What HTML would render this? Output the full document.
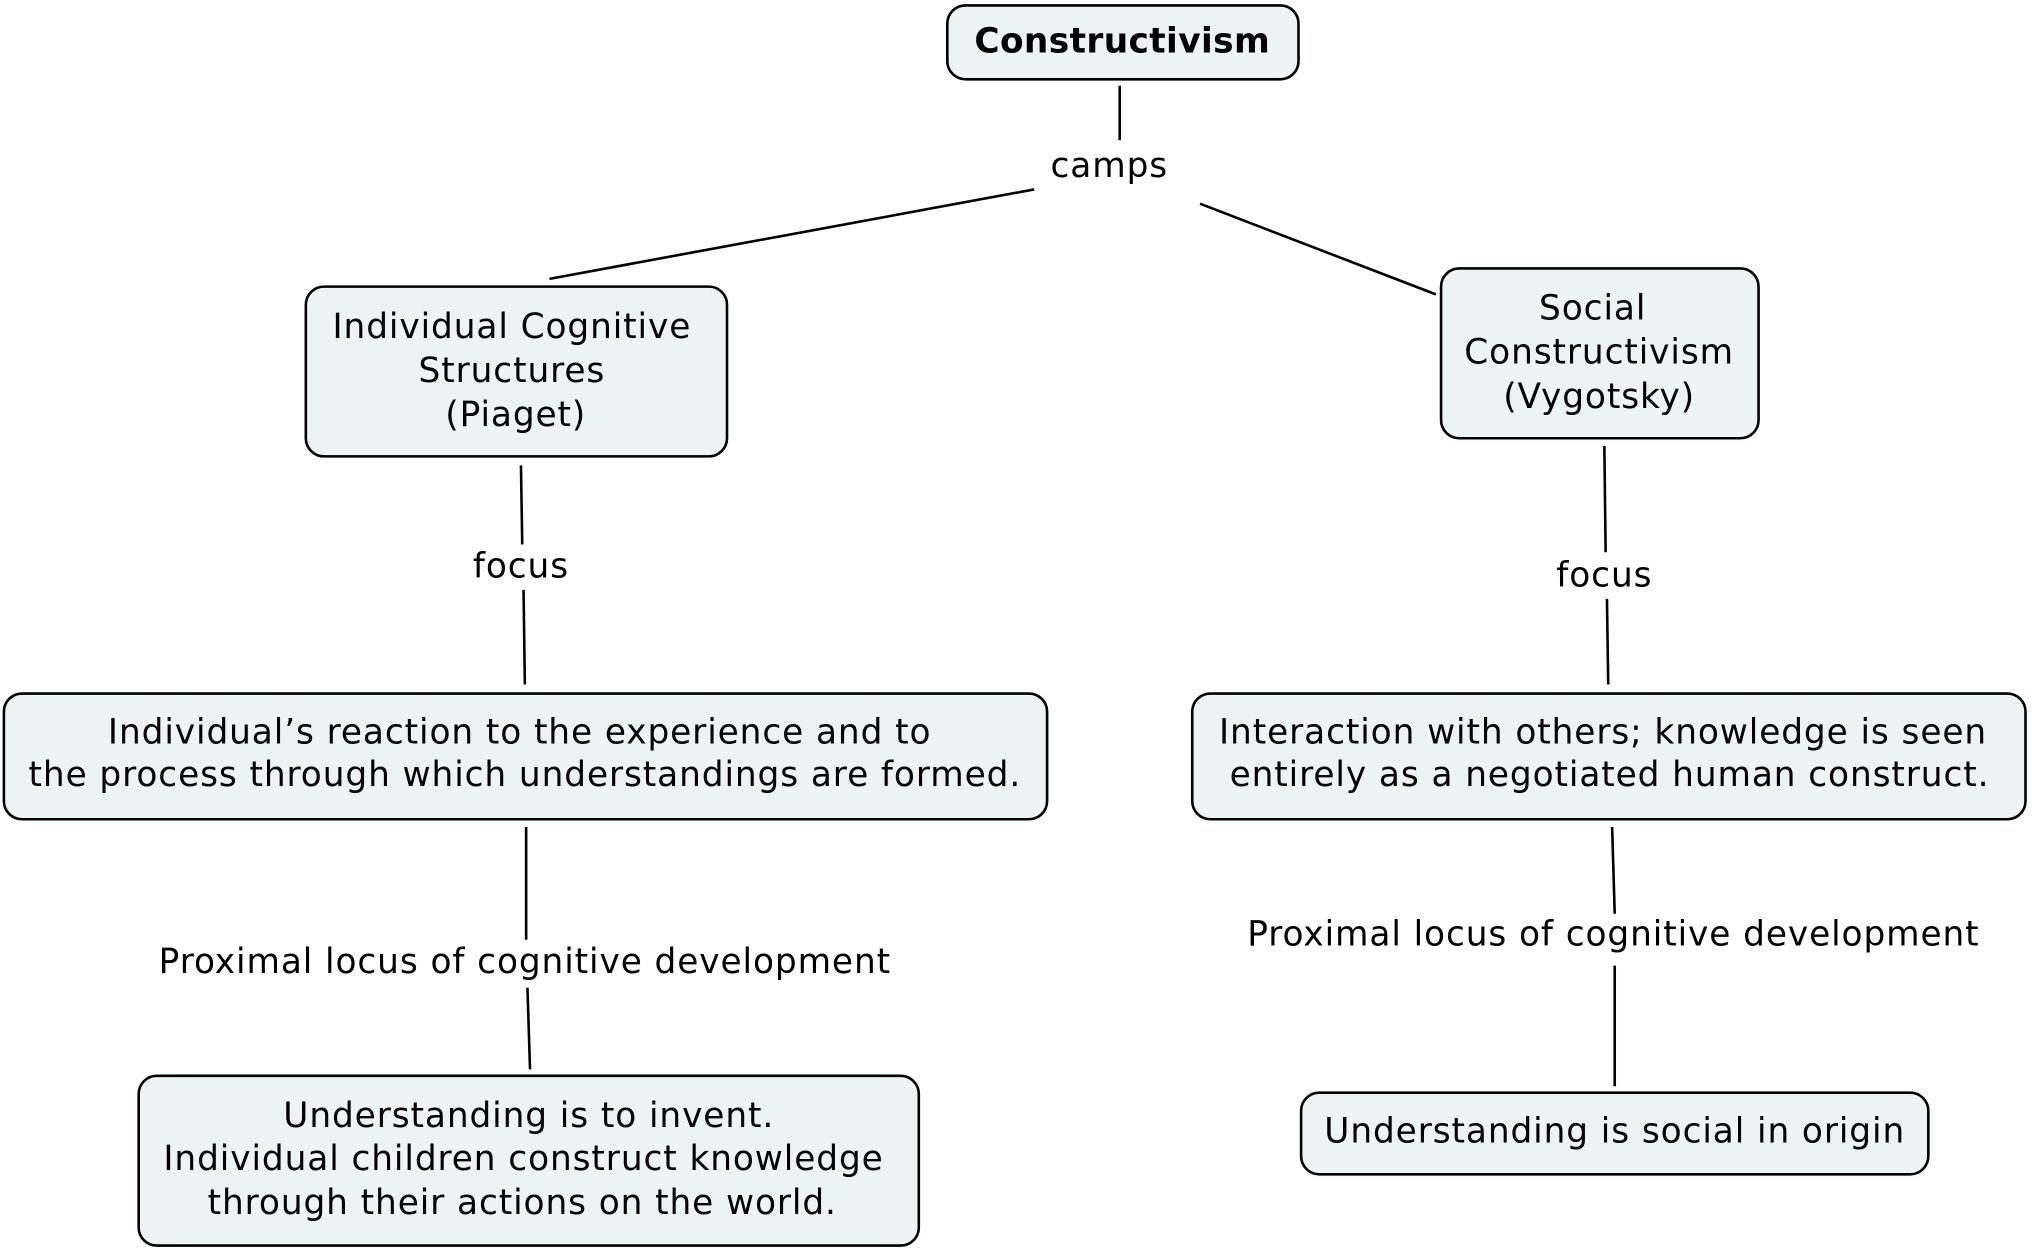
<!DOCTYPE html>
<html><head><meta charset="utf-8"><style>html,body{margin:0;padding:0;background:#fff}svg{display:block}</style></head>
<body>
<svg width="2032" height="1251" viewBox="0 0 1568 965" xmlns="http://www.w3.org/2000/svg">
<g stroke="#000" stroke-width="2" fill="none">
<line x1="864" y1="66" x2="864" y2="108"/>
<line x1="798" y1="146" x2="424" y2="215"/>
<line x1="926" y1="157" x2="1108" y2="227"/>
<line x1="402" y1="359" x2="403" y2="420"/>
<line x1="404" y1="455" x2="405" y2="528"/>
<line x1="1238" y1="344" x2="1239" y2="426"/>
<line x1="1240" y1="462" x2="1241" y2="528"/>
<line x1="406" y1="638" x2="406" y2="725"/>
<line x1="407" y1="762" x2="409" y2="825"/>
<line x1="1244" y1="638" x2="1246" y2="705"/>
<line x1="1246" y1="745" x2="1246" y2="838"/>
</g>
<g stroke="#000" stroke-width="2" fill="#ecf3f5">
<rect x="731" y="4" width="271" height="57" rx="14"/>
<rect x="236" y="221" width="325" height="131" rx="14"/>
<rect x="1112" y="207" width="245" height="131" rx="14"/>
<rect x="3" y="535" width="805" height="97" rx="14"/>
<rect x="920" y="535" width="643" height="97" rx="14"/>
<rect x="107" y="830" width="602" height="131" rx="14"/>
<rect x="1004" y="843" width="484" height="63" rx="14"/>
</g>
<g font-family="'DejaVu Sans','Liberation Sans',sans-serif" font-size="26.5" letter-spacing="0.7" text-anchor="middle" fill="#000" dominant-baseline="central">
<text x="866" y="32" font-weight="bold" letter-spacing="0.3">Constructivism</text>
<text x="856" y="128">camps</text>
<text x="395" y="252">Individual Cognitive</text>
<text x="395" y="286">Structures</text>
<text x="398" y="320">(Piaget)</text>
<text x="1229" y="238">Social</text>
<text x="1234" y="272">Constructivism</text>
<text x="1234" y="306">(Vygotsky)</text>
<text x="402" y="437">focus</text>
<text x="1238" y="444">focus</text>
<text x="401" y="565">Individual’s reaction to the experience and to</text>
<text x="405" y="598">the process through which understandings are formed.</text>
<text x="1237" y="565">Interaction with others; knowledge is seen</text>
<text x="1242" y="598">entirely as a negotiated human construct.</text>
<text x="405" y="742">Proximal locus of cognitive development</text>
<text x="1245" y="721">Proximal locus of cognitive development</text>
<text x="408" y="861">Understanding is to invent.</text>
<text x="404" y="894">Individual children construct knowledge</text>
<text x="403" y="928">through their actions on the world.</text>
<text x="1246" y="873">Understanding is social in origin</text>
</g>
</svg>
</body></html>
